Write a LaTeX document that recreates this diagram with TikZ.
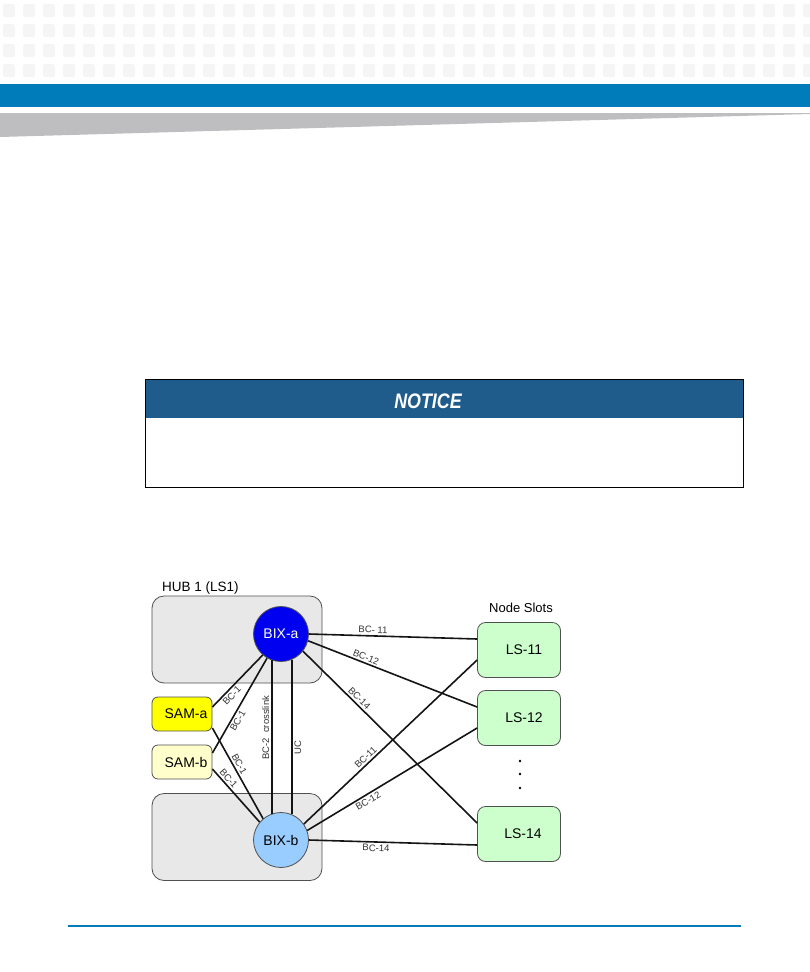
\documentclass[tikz,border=0pt]{standalone}
\usepackage{fontspec}
\setmainfont{Liberation Sans}
\newfontfamily\noticefont[FakeStretch=0.85]{Liberation Sans}
\usetikzlibrary{calc}
\definecolor{hdrblue}{RGB}{0,124,186}
\definecolor{wedgegray}{RGB}{190,190,192}
\definecolor{dotgray}{RGB}{245,245,245}
\definecolor{noticeblue}{RGB}{31,92,140}
\definecolor{hubgray}{RGB}{232,232,232}
\definecolor{framegray}{RGB}{80,80,80}
\definecolor{bixdark}{RGB}{0,0,240}
\definecolor{bixlight}{RGB}{153,204,255}
\definecolor{samyellow}{RGB}{255,255,0}
\definecolor{samcream}{RGB}{255,255,204}
\definecolor{slotgreen}{RGB}{204,255,204}
\definecolor{wire}{RGB}{20,20,20}
\tikzset{
  hub/.style={rectangle, draw=framegray, fill=hubgray, rounded corners=12pt,
    line width=0.8pt, minimum width=170pt, minimum height=87pt, inner sep=0pt},
  bix/.style={circle, draw=framegray, line width=0.8pt, minimum size=55pt,
    inner sep=0pt, font=\fontsize{14}{16}\selectfont},
  sam/.style={rectangle, draw=framegray, rounded corners=6pt, line width=0.8pt,
    minimum width=60pt, minimum height=34pt, inner sep=0pt,
    font=\fontsize{14}{16}\selectfont},
  slot/.style={rectangle, draw=framegray, fill=slotgreen, rounded corners=8pt,
    line width=0.8pt, minimum width=83pt, minimum height=55pt, inner sep=0pt,
    font=\fontsize{14}{16}\selectfont},
  link/.style={line width=1.6pt, color=wire},
  tag/.style={font=\fontsize{9.5}{11}\selectfont, sloped, inner sep=1.8pt, text=black!80},
  caption/.style={font=\fontsize{13}{15}\selectfont, inner sep=0pt}
}
\begin{document}
\begin{tikzpicture}[x=1pt, y=-1pt]
  \useasboundingbox (0,0) rectangle (810,972);
  % ── Page header ──
  \foreach \col in {0,...,40}
    \foreach \row in {0,...,3}
      \fill[dotgray, rounded corners=1.5pt] ({3+20*\col},{4+20*\row}) rectangle ++(12,13);
  \fill[hdrblue] (0,84) rectangle (810,107);
  \fill[wedgegray] (0,113) -- (810,113) -- (810,114) -- (0,137) -- cycle;
  % ── Notice box ──
  \fill[noticeblue] (145,379) rectangle (743,418);
  \draw[line width=1pt] (145,379) rectangle (743,487);
  \node[text=white, font=\noticefont\fontsize{21}{24}\selectfont\bfseries\itshape]
    (notice) at (428,401) {NOTICE};
  % ── Hubs ──
  \node[caption, anchor=west, font=\fontsize{13.5}{15}\selectfont] (hublabel) at (162,588) {HUB 1 (LS1)};
  \node[hub] (hubtop) at (237,639.5) {};
  \node[hub] (hubbot) at (237,837) {};
  \node[bix, fill=bixdark, text=white] (BIXa) at (281,634) {BIX-a};
  \node[bix, fill=bixlight] (BIXb) at (281,840) {BIX-b};
  \node[sam, fill=samyellow] (SAMa) at (182,714) {\hspace{8pt}SAM-a};
  \node[sam, fill=samcream] (SAMb) at (182,762) {\hspace{8pt}SAM-b};
  % ── Node slots ──
  \node[caption] (slotlabel) at (521,608) {Node Slots};
  \node[slot] (LS11) at (519,650) {\hspace{10pt}LS-11};
  \node[slot] (LS12) at (519,718) {\hspace{10pt}LS-12};
  \node[slot] (LS14) at (519,834) {\hspace{8pt}LS-14};
  \foreach \y in {761,774,788}
    \fill (520,\y) circle (1.4pt);
  % ── Links from BIX-a ──
  \draw[link] (BIXa.east) -- ([yshift=11pt]LS11.west)
    node[tag, above, pos=0.38] {BC- 11};
  \draw[link] (BIXa.-14) -- ([yshift=11pt]LS12.west)
    node[tag, above, pos=0.33] {BC-12};
  \draw[link] (BIXa.-38) -- ([yshift=11pt]LS14.west)
    node[tag, above, pos=0.3] {BC-14};
  % ── Links from BIX-b ──
  \draw[link] (BIXb.35) -- ([yshift=-10pt]LS11.west)
    node[tag, above, pos=0.38] {BC-11};
  \draw[link] (BIXb.20) -- ([yshift=-10pt]LS12.west)
    node[tag, below, pos=0.34] {BC-12};
  \draw[link] (BIXb.east) -- ([yshift=-11pt]LS14.west)
    node[tag, below, pos=0.4] {BC-14};
  % crosslink and UC
  \draw[link] (BIXb.109) -- (BIXa.251)
    node[tag, above, pos=0.56] {BC-2\ \ crosslink};
  \draw[link] (BIXb.67) -- (BIXa.293)
    node[tag, below, pos=0.43] {UC};
  % ── SAM links ──
  \draw[link] ([yshift=7pt]SAMa.east) -- (BIXa.229)
    node[tag, below, pos=0.3] {BC-1};
  \draw[link] ([yshift=9pt]SAMb.east) -- (BIXa.240)
    node[tag, below, pos=0.37] {BC-1};
  \draw[link] ([yshift=-14pt]SAMa.east) -- (BIXb.130)
    node[tag, above, pos=0.43] {BC-1};
  \draw[link] ([yshift=-7pt]SAMb.east) -- (BIXb.140)
    node[tag, above, pos=0.25] {BC-1};
  % ── Footer rule ──
  \draw[hdrblue, line width=2pt] (68,926) -- (741,926);
\end{tikzpicture}
\end{document}
